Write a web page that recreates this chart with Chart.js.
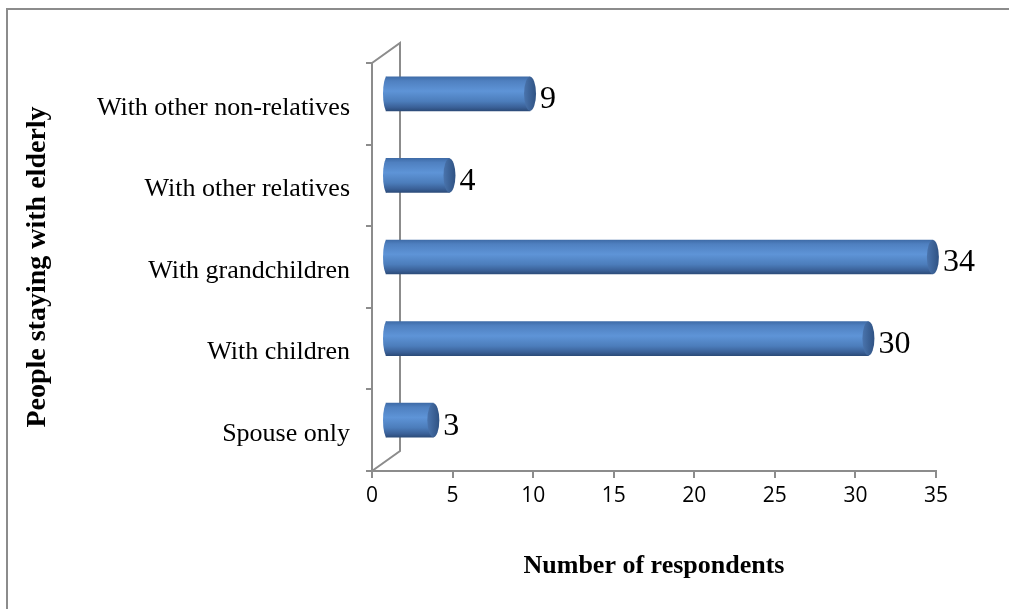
<!DOCTYPE html>
<html lang="en">
<head>
<meta charset="UTF-8">
<title>People staying with elderly</title>
<script src="https://cdn.jsdelivr.net/npm/chart.js@4.4.1/dist/chart.umd.min.js"></script>
<style>
  html, body { margin: 0; padding: 0; background: #fff; overflow: hidden; }
  #wrap { position: relative; width: 1009px; height: 609px; }
  /* only the top and left edges of the chart frame show */
  #frame { position: absolute; left: 6px; top: 8px; right: -10px; bottom: -10px;
           border-left: 2px solid #8c8c8c; border-top: 2px solid #8c8c8c; }
  #chart { position: absolute; left: 0; top: 0; }
</style>
</head>
<body>
<div id="wrap">
  <div id="frame"></div>
  <canvas id="chart" width="1009" height="609"></canvas>
</div>
<script>
const categories = ['With other non-relatives', 'With other relatives', 'With grandchildren', 'With children', 'Spouse only'];
const respondents = [9, 4, 34, 30, 3];
const xTicks = [0, 5, 10, 15, 20, 25, 30, 35];

const AXIS = '#8c8c8c';
const SERIF = "'Liberation Serif', 'Times New Roman', serif";
const BAR_H = 34;
// 3-D depth of the plot box
const DX = 28, DY = 20;

function cylinderGradient(ctx, cy) {
  const g = ctx.createLinearGradient(0, cy - BAR_H / 2, 0, cy + BAR_H / 2);
  g.addColorStop(0, '#3f6ca8');
  g.addColorStop(0.12, '#4f80c0');
  g.addColorStop(0.42, '#5e94d7');
  g.addColorStop(0.72, '#4c7dbb');
  g.addColorStop(0.9, '#3a6097');
  g.addColorStop(1, '#2c4c7a');
  return g;
}

function cylinderFill(c) {
  const chart = c.chart;
  const ys = chart.scales.y;
  if (!chart.chartArea || !ys || c.dataIndex === undefined) return '#4f81bd';
  return cylinderGradient(chart.ctx, ys.getPixelForValue(c.dataIndex));
}

// back wall + half-depth shift for the bars, then end caps and values
const depthPlugin = {
  id: 'depth',
  beforeDatasetsDraw(chart) {
    const { ctx, chartArea: a } = chart;
    ctx.save();
    ctx.strokeStyle = AXIS;
    ctx.lineWidth = 2;
    ctx.beginPath();
    ctx.moveTo(a.left, a.top);
    ctx.lineTo(a.left + DX, a.top - DY);
    ctx.lineTo(a.left + DX, a.bottom - DY);
    ctx.lineTo(a.left, a.bottom);
    ctx.stroke();
    ctx.restore();
    ctx.save();
    ctx.translate(DX / 2 - 1, -DY / 2);
  },
  afterDatasetsDraw(chart) {
    const ctx = chart.ctx;
    const meta = chart.getDatasetMeta(0);
    meta.data.forEach((bar, i) => {
      const { x, y, base, height } = bar.getProps(['x', 'y', 'base', 'height'], true);
      const ry = height / 2;
      // rounded near end of the cylinder
      ctx.beginPath();
      ctx.ellipse(base + 1, y, 4, ry, 0, Math.PI / 2, Math.PI * 1.5);
      ctx.fillStyle = cylinderGradient(ctx, y);
      ctx.fill();
      // far end cap
      ctx.beginPath();
      ctx.ellipse(x, y, 6, ry, 0, 0, Math.PI * 2);
      const g = ctx.createLinearGradient(x - 6, 0, x + 6, 0);
      g.addColorStop(0, '#4a74ad');
      g.addColorStop(1, '#2f5283');
      ctx.fillStyle = g;
      ctx.fill();

      ctx.fillStyle = '#000';
      ctx.font = '32px ' + SERIF;
      ctx.textAlign = 'left';
      ctx.textBaseline = 'middle';
      ctx.fillText(String(respondents[i]), x + 10, y + 6);
    });
    ctx.restore();
  }
};

new Chart(document.getElementById('chart'), {
  type: 'bar',
  data: {
    labels: categories,
    datasets: [{
      data: respondents,
      backgroundColor: cylinderFill,
      borderWidth: 0,
      borderSkipped: false,
      barThickness: BAR_H,
      clip: false
    }]
  },
  options: {
    indexAxis: 'y',
    responsive: false,
    animation: false,
    layout: { padding: { top: 63, right: 73, left: 0, bottom: 0 } },
    plugins: { legend: { display: false }, tooltip: { enabled: false } },
    scales: {
      x: {
        min: xTicks[0],
        max: xTicks[xTicks.length - 1],
        afterFit(scale) { scale.height = 138; },
        ticks: {
          stepSize: xTicks[1] - xTicks[0],
          color: '#000',
          padding: 5,
          font: { family: "'Open Sans', sans-serif", size: 21 }
        },
        grid: { drawOnChartArea: false, tickLength: 7, color: AXIS, lineWidth: 2 },
        border: { color: AXIS, width: 2 },
        title: {
          display: true,
          text: 'Number of respondents',
          color: '#000',
          padding: { top: 0, bottom: 27 },
          font: { family: SERIF, size: 26, weight: 'bold' }
        }
      },
      y: {
        afterFit(scale) { scale.width = 372; },
        ticks: {
          color: '#000',
          padding: 16,
          labelOffset: 4,
          font: { family: SERIF, size: 26 }
        },
        grid: { drawOnChartArea: false, tickLength: 6, color: AXIS, lineWidth: 2 },
        border: { color: AXIS, width: 2 },
        title: {
          display: true,
          text: 'People staying with elderly',
          color: '#000',
          padding: { top: 21, bottom: 0 },
          font: { family: SERIF, size: 28, weight: 'bold' }
        }
      }
    }
  },
  plugins: [depthPlugin]
});
</script>
</body>
</html>
